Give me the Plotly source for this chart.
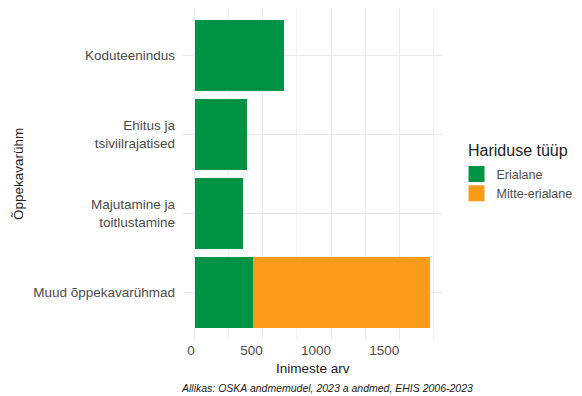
import plotly.graph_objects as go

# data
categories = ["Koduteenindus", "Ehitus ja<br>tsiviilrajatised", "Majutamine ja<br>toitlustamine", "Muud õppekavarühmad"]
erialane = [655, 385, 355, 430]
mitte_erialane = [0, 0, 0, 1298]
x_ticks = [0, 500, 1000, 1500]
x_tick_labels = ["0", "500", "1000", "1500"]

GREEN = "#009245"
ORANGE = "#FB9B1A"
FONT = "Liberation Sans, Arial, sans-serif"
TEXT = "#4d4d4d"

fig = go.Figure()
fig.add_trace(go.Bar(
    y=categories, x=erialane, orientation="h", name="Erialane",
    marker=dict(color=GREEN, line=dict(width=0)), showlegend=False
))
fig.add_trace(go.Bar(
    y=categories, x=mitte_erialane, orientation="h", name="Mitte-erialane",
    marker=dict(color=ORANGE, line=dict(width=0)), showlegend=False
))
# legend-only entries so the keys can be bigger squares
for name, col in [("Erialane", GREEN), ("Mitte-erialane", ORANGE)]:
    fig.add_trace(go.Scatter(
        x=[None], y=[None], mode="markers", name=name,
        marker=dict(symbol="square", size=18, color=col)
    ))

# labels right-aligned on the gridline (pad with figure spaces)
padded = [t + "\u2007" * len(t) for t in x_tick_labels]

# the page body has an 8px margin, so the figure is 8px smaller
fig.update_layout(
    width=574, height=388,
    barmode="stack", bargap=0.1,
    plot_bgcolor="white", paper_bgcolor="white",
    margin=dict(l=175, r=140, t=0, b=56, autoexpand=False),
    font=dict(family=FONT, size=13.5, color=TEXT),
    xaxis=dict(
        range=[-86, 1814], tickvals=x_ticks, ticktext=padded,
        showgrid=True, gridcolor="#ebebeb", gridwidth=1,
        minor=dict(dtick=250, tick0=0, showgrid=True, gridcolor="#f2f2f2", gridwidth=1),
        zeroline=False, showline=False, ticks="", automargin=False,
        tickfont=dict(size=13.5, color=TEXT),
    ),
    yaxis=dict(
        categoryorder="array", categoryarray=categories,
        range=[3.6, -0.6], showgrid=True, gridcolor="#ebebeb",
        zeroline=False, showline=False, ticks="", ticklabelstandoff=7,
        automargin=False,
        tickfont=dict(size=13.5, color=TEXT),
    ),
    legend=dict(
        x=1.056, xanchor="left", y=0.544, yanchor="top",
        font=dict(size=12.5, color=TEXT), traceorder="normal",
        itemsizing="trace", tracegroupgap=0,
    ),
    annotations=[
        dict(text="Hariduse tüüp", xref="paper", yref="paper", x=1.092, y=0.572,
             xanchor="left", yanchor="middle", showarrow=False,
             font=dict(size=16, color="#222")),
        dict(text="Inimeste arv", xref="paper", yref="paper", x=0.5, y=-0.087,
             xanchor="center", yanchor="middle", showarrow=False,
             font=dict(size=13.5, color="#222")),
        dict(text="Õppekavarühm", xref="paper", yref="paper", x=-0.637, y=0.5,
             textangle=-90, xanchor="center", yanchor="middle", showarrow=False,
             font=dict(size=13.5, color="#222")),
        dict(text="<i>Allikas: OSKA andmemudel, 2023 a andmed, EHIS 2006-2023</i>",
             xref="paper", yref="paper", x=0.556, y=-0.145,
             xanchor="center", yanchor="middle", showarrow=False,
             font=dict(size=10.5, color="#222")),
    ],
)

fig.write_html("out.html")
